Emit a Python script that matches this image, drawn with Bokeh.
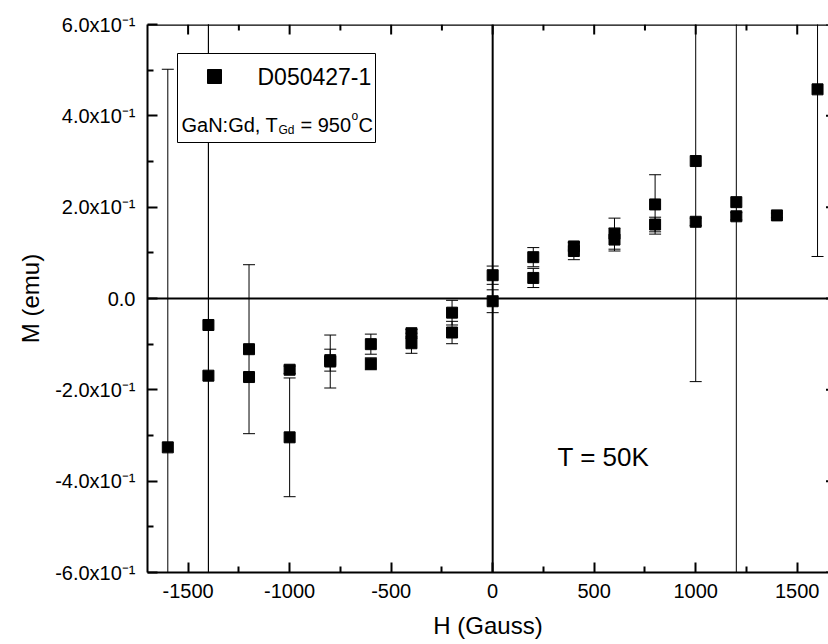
from bokeh.plotting import figure
from bokeh.models import (ColumnDataSource, Whisker, TeeHead, Span, BoxAnnotation, Label,
                          FixedTicker, Range1d, CustomJSTickFormatter)
from bokeh.embed import file_html
from bokeh.resources import INLINE

# ---------------- data ----------------
H = [-1600, -1400, -1400, -1200, -1200, -1000, -1000, -800, -800, -600, -600,
     -400, -400, -200, -200, 0, 0, 200, 200, 400, 400, 600, 600, 800, 800,
     1000, 1000, 1200, 1200, 1400, 1600]
M = [-0.326, -0.058, -0.169, -0.111, -0.172, -0.156, -0.304, -0.135, -0.138, -0.100, -0.143,
     -0.076, -0.098, -0.031, -0.0745, 0.051, -0.006, 0.0905, 0.045, 0.114, 0.104, 0.142, 0.129,
     0.206, 0.162, 0.301, 0.168, 0.211, 0.180, 0.182, 0.458]
M_ERR = [0.828, 0.80, 0.80, 0.185, 0.008, 0.008, 0.130, 0.024, 0.058, 0.022, 0.013,
         0.008, 0.022, 0.027, 0.0245, 0.020, 0.025, 0.021, 0.021, 0.008, 0.019, 0.034, 0.025,
         0.065, 0.016, 0.483, 0.008, 0.85, 0.008, 0.005, 0.366]

SERIES_NAME = "D050427-1"
SAMPLE_TEXT = ["GaN:Gd, T", "Gd", "= 950", "o", "C"]
TEMP_TEXT = "T = 50K"
X_LABEL = "H (Gauss)"
Y_LABEL = "M (emu)"
X_TICKS = [-1500, -1000, -500, 0, 500, 1000, 1500]
X_MINOR = [-1250, -750, -250, 250, 750, 1250]
Y_TICKS = [-0.6, -0.4, -0.2, 0.0, 0.2, 0.4, 0.6]
Y_MINOR = [-0.5, -0.3, -0.1, 0.1, 0.3, 0.5]
Y_TICK_LABELS = ["-6.0x10\u207b\u00b9", "-4.0x10\u207b\u00b9", "-2.0x10\u207b\u00b9", "0.0",
                 "2.0x10\u207b\u00b9", "4.0x10\u207b\u00b9", "6.0x10\u207b\u00b9"]

# ---------------- layout ----------------
FONT = "Liberation Sans"
W, HGT = 828, 644
FRAME_LEFT, FRAME_TOP, FRAME_BOTTOM = 147, 24, 572
X_START, X_END = -1700, 1654
Y_START, Y_END = -0.6, 0.6
FRAME_W = W - FRAME_LEFT
FRAME_H = FRAME_BOTTOM - FRAME_TOP
DX = (X_END - X_START) / FRAME_W      # data units per pixel (x)
DY = (Y_END - Y_START) / FRAME_H      # data units per pixel (y)


def hx(px):
    return X_START + (px - FRAME_LEFT) * DX


def my(py):
    return Y_END - (py - FRAME_TOP) * DY


p = figure(width=W, height=HGT, x_range=Range1d(X_START, X_END), y_range=Range1d(Y_START, Y_END),
           output_backend="svg", toolbar_location=None,
           min_border_left=FRAME_LEFT, min_border_right=0, min_border_top=FRAME_TOP,
           min_border_bottom=HGT - FRAME_BOTTOM)
p.outline_line_color = None
p.xgrid.visible = False
p.ygrid.visible = False
p.background_fill_color = "white"
p.border_fill_color = "white"


def style_axis(ax, major, minor):
    ax.ticker = FixedTicker(ticks=major, minor_ticks=minor)
    ax.axis_line_width = 2
    ax.axis_line_color = "black"
    ax.major_tick_in = 10
    ax.major_tick_out = 0
    ax.minor_tick_in = 6
    ax.minor_tick_out = 0
    ax.major_tick_line_width = 2
    ax.minor_tick_line_width = 2
    ax.major_tick_line_color = "black"
    ax.minor_tick_line_color = "black"
    ax.major_label_text_font = FONT
    ax.major_label_text_font_size = "20px"
    ax.major_label_text_color = "black"
    ax.axis_label_text_font = FONT
    ax.axis_label_text_font_size = "24px"
    ax.axis_label_text_font_style = "normal"
    ax.axis_label_text_color = "black"


xa = p.xaxis[0]
style_axis(xa, X_TICKS, X_MINOR)
xa.axis_label = X_LABEL
xa.major_label_standoff = 11
xa.axis_label_standoff = 11
xa.formatter = CustomJSTickFormatter(code="return String(Math.round(tick));")

ya = p.yaxis[0]
style_axis(ya, Y_TICKS, Y_MINOR)
ya.axis_label = Y_LABEL
ya.major_label_standoff = 12
ya.axis_label_standoff = 8
ya.formatter = CustomJSTickFormatter(args=dict(vals=Y_TICKS, labs=Y_TICK_LABELS), code="""
let best = 0; let d = Infinity;
for (let i = 0; i < vals.length; i++) { const dd = Math.abs(vals[i] - tick); if (dd < d) { d = dd; best = i; } }
return labs[best];
""")

# top frame line with inward ticks, and the stubs of the (cut-off) right axis ticks
p.add_layout(Span(location=Y_END, dimension="width", line_color="black", line_width=2.5))
p.segment(x0=X_TICKS, y0=[Y_END] * len(X_TICKS), x1=X_TICKS,
          y1=[Y_END - 10 * DY] * len(X_TICKS), line_color="black", line_width=2)
p.segment(x0=X_MINOR, y0=[Y_END] * len(X_MINOR), x1=X_MINOR,
          y1=[Y_END - 6 * DY] * len(X_MINOR), line_color="black", line_width=2)
p.segment(x0=[X_END - 2.5 * DX] * len(Y_TICKS), y0=Y_TICKS, x1=[X_END] * len(Y_TICKS),
          y1=Y_TICKS, line_color="black", line_width=2)

# zero lines
p.add_layout(Span(location=0, dimension="width", line_color="black", line_width=2, level="underlay"))
p.add_layout(Span(location=0, dimension="height", line_color="black", line_width=2, level="underlay"))

src = ColumnDataSource(dict(h=H, m=M,
                            upper=[m + e for m, e in zip(M, M_ERR)],
                            lower=[m - e for m, e in zip(M, M_ERR)]))
p.add_layout(Whisker(source=src, base="h", upper="upper", lower="lower",
                     line_color="black", line_width=1, level="underlay",
                     upper_head=TeeHead(size=12, line_color="black", line_width=1),
                     lower_head=TeeHead(size=12, line_color="black", line_width=1)))
p.scatter("h", "m", source=src, marker="square", size=11, color="black")

# legend box (under the glyph layer, above the error bars)
p.add_layout(BoxAnnotation(left=hx(177), right=hx(375), top=my(53), bottom=my(142),
                           fill_color="white", fill_alpha=1.0, line_color="black",
                           line_width=1, line_alpha=1.0, level="underlay"))
p.scatter([hx(214)], [my(76)], marker="square", size=14, color="black")
p.add_layout(Label(x=hx(257), y=my(76), text=SERIES_NAME, text_font=FONT, text_color="black",
                   text_font_size="23px", text_baseline="middle", text_align="left"))

base_y = my(124)
x0 = hx(181)
p.add_layout(Label(x=x0, y=base_y, text=SAMPLE_TEXT[0], text_font=FONT, text_font_size="20px",
                   text_color="black", text_baseline="alphabetic"))
p.add_layout(Label(x=x0, y=base_y, x_offset=97, y_offset=-5, text=SAMPLE_TEXT[1], text_font=FONT,
                   text_color="black", text_font_size="12px", text_baseline="alphabetic"))
p.add_layout(Label(x=x0, y=base_y, x_offset=119, text=SAMPLE_TEXT[2], text_font=FONT,
                   text_color="black", text_font_size="20px", text_baseline="alphabetic"))
p.add_layout(Label(x=x0, y=base_y, x_offset=170, y_offset=9, text=SAMPLE_TEXT[3], text_font=FONT,
                   text_color="black", text_font_size="12px", text_baseline="alphabetic"))
p.add_layout(Label(x=x0, y=base_y, x_offset=177, text=SAMPLE_TEXT[4], text_font=FONT,
                   text_color="black", text_font_size="20px", text_baseline="alphabetic"))

p.add_layout(Label(x=hx(557), y=my(456), text=TEMP_TEXT, text_font=FONT, text_font_size="26px",
                   text_color="black", text_baseline="alphabetic", text_align="left"))

open("out.html", "w").write(file_html(p, INLINE))
